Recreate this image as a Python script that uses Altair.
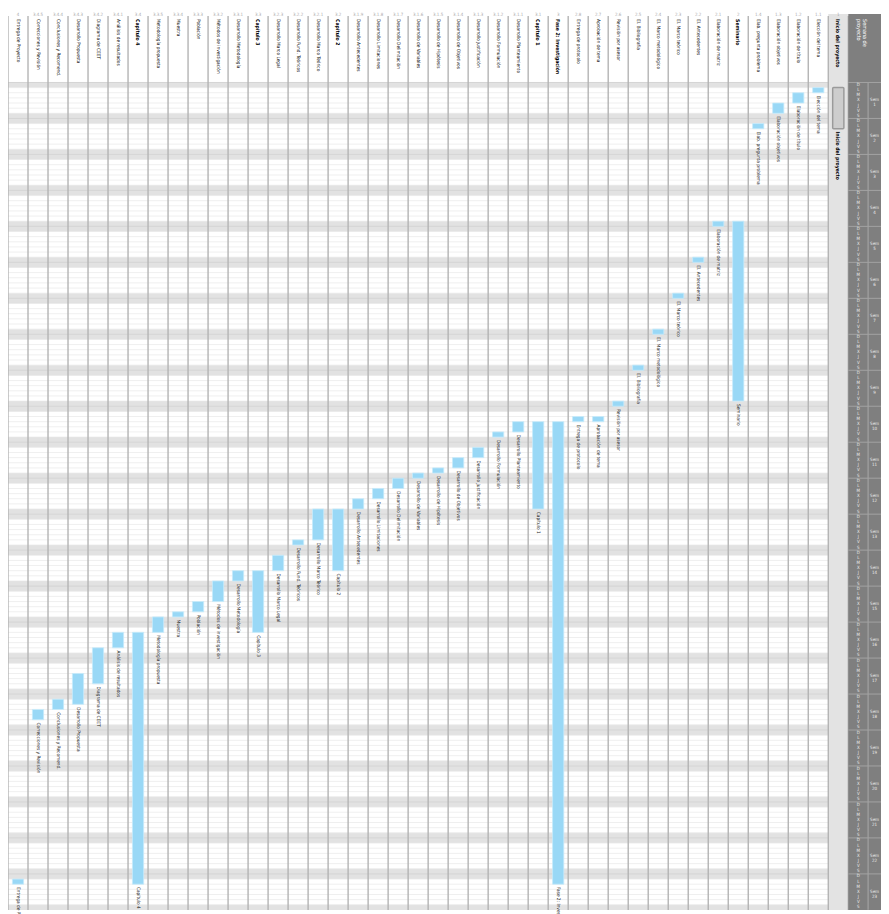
import altair as alt
import pandas as pd

# ---------------- data ----------------
wbs = ["1", "1.1", "1.2", "1.3", "1.4",
       "2", "2.1", "2.2", "2.3", "2.4", "2.5", "2.6", "2.7", "2.8",
       "3", "3.1", "3.1.1", "3.1.2", "3.1.3", "3.1.4", "3.1.5", "3.1.6", "3.1.7", "3.1.8", "3.1.9",
       "3.2", "3.2.1", "3.2.2", "3.2.3",
       "3.3", "3.3.1", "3.3.2", "3.3.3", "3.3.4", "3.3.5",
       "3.4", "3.4.1", "3.4.2", "3.4.3", "3.4.4", "3.4.5",
       "4"]
names = ["Inicio del proyecto", "Elección del tema", "Elaboración de título", "Elaboración objetivos",
         "Elab. pregunta problema",
         "Seminario", "Elaboración de matriz", "El. Antecedentes", "El. Marco teórico",
         "El. Marco metodológico", "El. Bibliografía", "Revisión por asesor",
         "Aprobación de tema", "Entrega de protocolo",
         "Fase 2: Investigación", "Capítulo 1",
         "Desarrollo Planteamiento", "Desarrollo Formulación", "Desarrollo Justificación",
         "Desarrollo de Objetivos", "Desarrollo de Hipótesis", "Desarrollo de Variables",
         "Desarrollo Delimitación", "Desarrollo Limitaciones", "Desarrollo Antecedentes",
         "Capítulo 2", "Desarrollo Marco Teórico", "Desarrollo Fund. Teóricos",
         "Desarrollo Marco Legal",
         "Capítulo 3", "Desarrollo Metodología", "Métodos de investigación",
         "Población", "Muestra", "Metodología propuesta",
         "Capítulo 4", "Análisis de resultados", "Diagrama de CEET",
         "Desarrollo Propuesta", "Conclusiones y Recomend.", "Correcciones y Revisión",
         "Entrega de Proyecto"]
start = [1, 1, 2, 4, 8,
         27, 27, 34, 41, 48, 55, 62, 65, 65,
         66, 66, 66, 68, 71, 73, 75, 76, 77, 79, 81,
         83, 83, 89, 92,
         95, 95, 97, 101, 103, 104,
         107, 107, 110, 115, 120, 122,
         155]
end = [9, 2, 4, 6, 9,
       62, 28, 35, 42, 49, 56, 63, 66, 66,
       156, 83, 68, 69, 73, 75, 76, 77, 79, 81, 83,
       95, 89, 90, 95,
       107, 97, 101, 103, 104, 107,
       156, 110, 117, 121, 122, 124,
       156]
summary = ["1", "2", "3", "3.1", "3.2", "3.3", "3.4"]
day_letters = ["D", "L", "M", "X", "J", "V", "S"]

# ---------------- layout ----------------
N_ROWS = 161
CW = 20.19
W = 881
H = 835
NC = len(names)
XMAX = W / CW

tasks = pd.DataFrame({"wbs": wbs, "name": names, "start": start, "end": end})
tasks["col"] = [NC - 1 - k for k in range(NC)]
tasks["is_sum"] = tasks["wbs"].isin(summary)
tasks["first"] = tasks.index == 0

days = pd.DataFrame({"row": list(range(N_ROWS))})
days["dow"] = days["row"] % 7
days["letter"] = [day_letters[d] for d in days["dow"]]
weekend = days[days["dow"].isin([0, 6])]
weeks = pd.DataFrame({"row": list(range(0, N_ROWS, 7))})
weeks["label"] = ["Sem\n" + str(i + 1) for i in range(len(weeks))]
cols = pd.DataFrame({"c": list(range(NC + 1))})
one = pd.DataFrame({"k": [0]})

xs = alt.Scale(domain=[0, XMAX], nice=False, zero=False)
ys = alt.Scale(domain=[0, N_ROWS], nice=False, zero=False, reverse=True)


def X(f):
    return alt.X(f, type="quantitative", scale=xs, axis=None)


def Y(f):
    return alt.Y(f, type="quantitative", scale=ys, axis=None)


FONT = "Liberation Sans Narrow, DejaVu Sans Condensed, Arial Narrow, sans-serif"

bands = alt.Chart(weekend).mark_rect(color="#e2e2e2").transform_calculate(
    x1="0", x2=str(NC), r2="datum.row + 1"
).encode(x=X("x1:Q"), x2="x2:Q", y=Y("row:Q"), y2="r2:Q")

row_lines = alt.Chart(days).mark_rule(color="#e8e8e8", strokeWidth=0.7).transform_calculate(
    x1="0", x2=str(NC)
).encode(x=X("x1:Q"), x2="x2:Q", y=Y("row:Q"))

week_lines = alt.Chart(weeks).mark_rule(color="#cfcfcf", strokeWidth=0.8).transform_calculate(
    x1="0", x2=str(NC)
).encode(x=X("x1:Q"), x2="x2:Q", y=Y("row:Q"))

first_col = alt.Chart(one).mark_rect(color="#e3e3e3").transform_calculate(
    x1=str(NC - 1), x2=str(NC)
).encode(x=X("x1:Q"), x2="x2:Q", y=alt.value(-69), y2=alt.value(H))

col_lines = alt.Chart(cols).mark_rule(color="#b3b3b3", strokeWidth=1.4).encode(
    x=X("c:Q"), y=alt.value(-67), y2=alt.value(H)
)

strip = alt.Chart(one).mark_rect(color="#7f7f7f").transform_calculate(
    x1=str(NC), x2=str(XMAX)
).encode(x=X("x1:Q"), x2="x2:Q", y=alt.value(-69), y2=alt.value(H))

strip_div = alt.Chart(one).mark_rule(color="#a9a9a9", strokeWidth=1).transform_calculate(
    x1=str(NC + 0.99)
).encode(x=X("x1:Q"), y=alt.value(0), y2=alt.value(H))

strip_weeks = alt.Chart(weeks).mark_rule(color="#a3a3a3", strokeWidth=1).transform_calculate(
    x1=str(NC), x2=str(XMAX)
).encode(x=X("x1:Q"), x2="x2:Q", y=Y("row:Q"))

day_text = alt.Chart(days).mark_text(fontSize=4.5, color="#ececec", font=FONT).transform_calculate(
    xc=str(NC + 0.5), yc="datum.row + 0.5"
).encode(x=X("xc:Q"), y=Y("yc:Q"), text="letter:N")

week_text = alt.Chart(weeks).mark_text(fontSize=4.5, color="#eeeeee", font=FONT, lineBreak="\n",
                                       lineHeight=5).transform_calculate(
    xc=str((NC + 0.99 + XMAX) / 2), yc="datum.row + 3.5"
).encode(x=X("xc:Q"), y=Y("yc:Q"), text="label:N")

strip_title = alt.Chart(pd.DataFrame({"t": ["Semana de\nproyecto"]})).mark_text(
    fontSize=5.5, color="#ffffff", font=FONT, angle=90, align="left", baseline="middle",
    lineBreak="\n", lineHeight=6
).transform_calculate(xc=str(NC + 0.85)).encode(x=X("xc:Q"), y=alt.value(-64), text="t:N")

calc_bar = dict(x1="datum.col + 0.22", x2="datum.col + 0.78")

bars = alt.Chart(tasks[~tasks["first"]]).mark_rect(
    color="#99d8f6", stroke="#c6ebfb", strokeWidth=0.8
).transform_calculate(**calc_bar).encode(
    x=X("x1:Q"), x2="x2:Q", y=Y("start:Q"), y2="end:Q"
)

first_bar = alt.Chart(tasks[tasks["first"]]).mark_rect(
    color="#cdcdcd", stroke="#9a9a9a", strokeWidth=1.5, cornerRadius=1
).transform_calculate(**calc_bar).encode(
    x=X("x1:Q"), x2="x2:Q", y=Y("start:Q"), y2="end:Q"
)

bar_labels = alt.Chart(tasks[~tasks["first"]]).mark_text(
    fontSize=4.8, color="#1a1a1a", font=FONT, angle=90, align="left", baseline="middle"
).transform_calculate(xc="datum.col + 0.5", yl="datum.end + 0.55").encode(
    x=X("xc:Q"), y=Y("yl:Q"), text="name:N"
)

first_label = alt.Chart(tasks[tasks["first"]]).mark_text(
    fontSize=5.2, color="#000000", font=FONT, angle=90, align="left", baseline="middle",
    fontWeight="bold"
).transform_calculate(xc="datum.col + 0.5", yl="datum.end + 0.55").encode(
    x=X("xc:Q"), y=Y("yl:Q"), text="name:N"
)

head_norm = alt.Chart(tasks[~tasks["is_sum"]]).mark_text(
    fontSize=4.8, color="#000000", font=FONT, angle=90, align="left", baseline="middle"
).transform_calculate(xc="datum.col + 0.5").encode(
    x=X("xc:Q"), y=alt.value(-64), text="name:N"
)

head_bold = alt.Chart(tasks[tasks["is_sum"]]).mark_text(
    fontSize=5.2, color="#000000", font=FONT, angle=90, align="left", baseline="middle",
    fontWeight="bold"
).transform_calculate(xc="datum.col + 0.5").encode(
    x=X("xc:Q"), y=alt.value(-64), text="name:N"
)

wbs_text = alt.Chart(tasks).mark_text(
    fontSize=4.5, color="#aaaaaa", font=FONT, align="center", baseline="middle"
).transform_calculate(xc="datum.col + 0.5").encode(
    x=X("xc:Q"), y=alt.value(-68), text="wbs:N"
)

chart = alt.layer(
    bands, row_lines, week_lines, first_col, col_lines, strip, strip_div, strip_weeks,
    day_text, week_text, strip_title, bars, first_bar, bar_labels, first_label,
    head_norm, head_bold, wbs_text
).properties(
    width=W, height=H,
    padding={"left": 0, "top": 71, "right": 0, "bottom": 0},
    autosize=alt.AutoSizeParams(type="none"),
    background="#ffffff",
).configure_view(stroke=None)

chart.save("out.html", embed_options={"renderer": "svg", "actions": False})
